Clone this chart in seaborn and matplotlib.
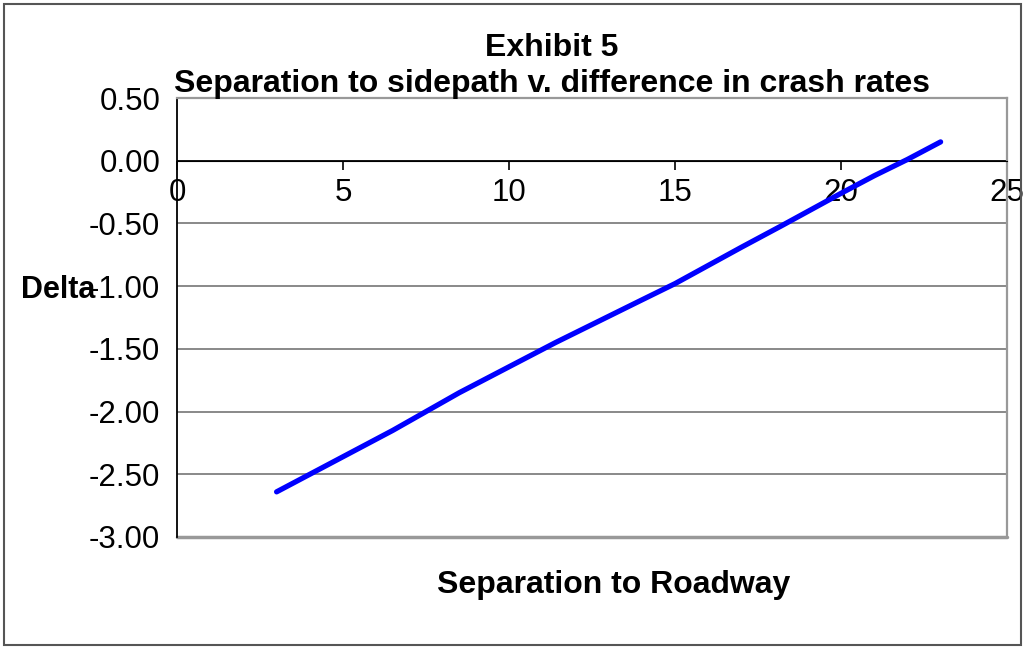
import numpy as np
import pandas as pd
import matplotlib
matplotlib.use('Agg')
import matplotlib.pyplot as plt
import seaborn as sns
from matplotlib.patches import Rectangle

# values
separation = [3, 4, 6.5, 8.5, 11.4, 14, 15, 17, 18.2, 20, 21, 22, 23]
delta = [-2.64, -2.50, -2.15, -1.85, -1.45, -1.11, -0.98, -0.69, -0.52, -0.26, -0.12, 0.01, 0.15]
x_ticks = [0, 5, 10, 15, 20, 25]
y_ticks = [0.5, 0.0, -0.5, -1.0, -1.5, -2.0, -2.5, -3.0]

df = pd.DataFrame({'Separation': separation, 'Delta': delta})

sns.set_style('white')
plt.rcParams['font.family'] = ['Liberation Sans', 'DejaVu Sans']
plt.rcParams['text.color'] = 'black'

fig = plt.figure(figsize=(10.26, 6.47), dpi=100)
ax = fig.add_axes([177/1026, 1 - 537/647, 830/1026, 439/647])

# horizontal gridlines
for v in y_ticks:
    ax.axhline(v, color='#808080' if v != 0 else 'black', lw=1.3, zorder=1)

sns.lineplot(data=df, x='Separation', y='Delta', color='#0000ff', lw=3.8,
             sort=False, ax=ax, zorder=3)

ax.set_xlim(0, 25)
ax.set_ylim(-3, 0.5)
ax.set_xticks(x_ticks)
ax.set_yticks(y_ticks)
ax.set_yticklabels([f'{v:.2f}' for v in y_ticks])
ax.tick_params(axis='both', labelsize=22.5, colors='black', direction='out')
ax.tick_params(axis='y', length=7, width=1.2, pad=5)
ax.tick_params(axis='x', length=6.5, width=1.2, pad=6, bottom=True)

# x axis sits on the zero line, frame in gray
ax.spines['bottom'].set_position(('data', 0))
ax.spines['bottom'].set_color('black')
ax.spines['left'].set_color('black')
ax.spines['left'].set_linewidth(1.3)
for s in ['top', 'right']:
    ax.spines[s].set_color('#999999')
    ax.spines[s].set_linewidth(1.6)
ax.axhline(-3, color='#999999', lw=2.5, zorder=2, clip_on=False)

ax.set_xlabel('')
ax.set_ylabel('')

fig.text(58/1026, 1 - 290/647, 'Delta', fontsize=22, fontweight='bold',
         ha='center', va='center', color='black')
fig.text(614/1026, 1 - 585/647, 'Separation to Roadway', fontsize=23,
         fontweight='bold', ha='center', va='center', color='black')
fig.text(552/1026, 1 - 92/647,
         'Exhibit 5\nSeparation to sidepath v. difference in crash rates',
         fontsize=23, fontweight='bold', ha='center', va='baseline',
         linespacing=1.25, color='black')

fig.patches.append(Rectangle((4/1026, 2/647), 1017/1026, 641/647,
                             transform=fig.transFigure, fill=False,
                             edgecolor='#555555', lw=1.5))

plt.savefig('out.png', dpi=100)
